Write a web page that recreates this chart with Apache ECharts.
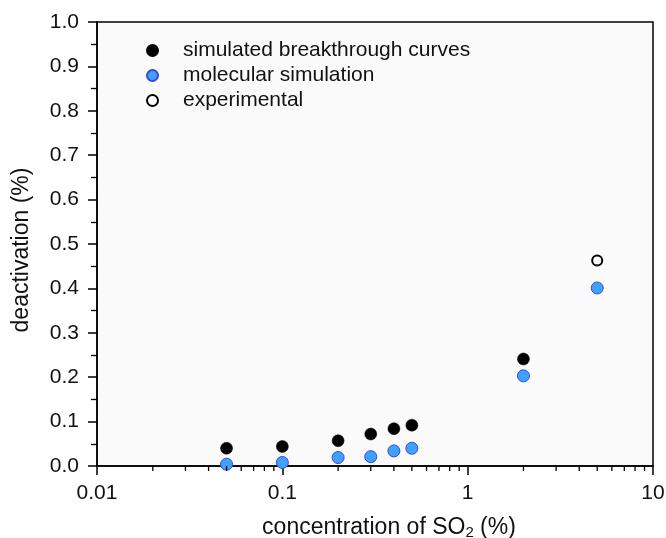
<!DOCTYPE html>
<html>
<head>
<meta charset="utf-8">
<script src="https://cdn.jsdelivr.net/npm/echarts@6/dist/echarts.min.js"></script>
<style>
  html, body { margin: 0; padding: 0; background: #fff; }
  #chart { width: 666px; height: 538px; }
</style>
</head>
<body>
<div id="chart"></div>
<script>
// SO2 concentration (%) and deactivation fraction for each data set
const breakthroughX = [0.05, 0.1, 0.2, 0.3, 0.4, 0.5, 2];
const breakthroughY = [0.040, 0.044, 0.057, 0.072, 0.084, 0.092, 0.241];

const molecularX = [0.05, 0.1, 0.2, 0.3, 0.4, 0.5, 2, 5];
const molecularY = [0.004, 0.008, 0.019, 0.021, 0.034, 0.040, 0.203, 0.401];

const experimentalX = [5];
const experimentalY = [0.463];

// minor ticks of the log axis (2..9 within every decade)
const minorTickValues = [
  0.02, 0.03, 0.04, 0.05, 0.06, 0.07, 0.08, 0.09,
  0.2, 0.3, 0.4, 0.5, 0.6, 0.7, 0.8, 0.9,
  2, 3, 4, 5, 6, 7, 8, 9
];

const FONT = 'Liberation Sans, Arial, sans-serif';
const pairs = (xs, ys) => xs.map((x, i) => [x, ys[i]]);

const chart = echarts.init(document.getElementById('chart'));
chart.setOption({
  backgroundColor: '#ffffff',
  animation: false,
  textStyle: { fontFamily: FONT },
  grid: {
    left: 97, right: 13, top: 22, bottom: 72,
    outerBoundsMode: 'none',
    containLabel: false,
    show: true, backgroundColor: '#fafafa', borderColor: '#000', borderWidth: 1.5
  },
  legend: {
    orient: 'vertical',
    left: 141, top: 35,
    itemWidth: 11, itemHeight: 11, itemGap: 4,
    icon: 'circle',
    textStyle: { fontFamily: FONT, fontSize: 21, color: '#111', padding: [0, 0, 0, 20] },
    data: ['simulated breakthrough curves', 'molecular simulation', 'experimental']
  },
  xAxis: {
    type: 'log', logBase: 10, min: 0.01, max: 10,
    name: 'concentration of SO{sub|2} (%)',
    nameLocation: 'middle', nameGap: 49,
    nameTextStyle: {
      fontFamily: FONT, fontSize: 23, color: '#111', padding: [0, 0, 0, 28],
      rich: { sub: { fontFamily: FONT, fontSize: 15, color: '#111', verticalAlign: 'bottom', padding: [10, 0, 0, 0] } }
    },
    axisLine: { lineStyle: { color: '#000', width: 1.5 } },
    axisTick: { show: true, inside: false, length: 9, lineStyle: { color: '#000', width: 1.5 } },
    axisLabel: {
      fontFamily: FONT, fontSize: 21, color: '#111', margin: 17,
      formatter: v => String(+v.toPrecision(3))
    },
    splitLine: { show: false }
  },
  yAxis: {
    type: 'value', min: 0, max: 1, interval: 0.1,
    name: 'deactivation (%)',
    nameLocation: 'middle', nameGap: 64, nameRotate: 90,
    nameTextStyle: { fontFamily: FONT, fontSize: 23, color: '#111', padding: [0, 12, 0, 0] },
    axisLine: { show: true, lineStyle: { color: '#000', width: 1.5 } },
    axisTick: { show: true, inside: false, length: 9, lineStyle: { color: '#000', width: 1.5 } },
    minorTick: { show: true, splitNumber: 2, length: 6, lineStyle: { color: '#000', width: 1.3 } },
    axisLabel: {
      fontFamily: FONT, fontSize: 21, color: '#111', margin: 18,
      formatter: v => v.toFixed(1)
    },
    splitLine: { show: false }
  },
  series: [
    {
      name: 'minor ticks',
      type: 'custom',
      silent: true,
      clip: false,
      data: minorTickValues.map(v => [v, 0]),
      renderItem: (params, api) => {
        const p = api.coord([api.value(0), 0]);
        return {
          type: 'line',
          shape: { x1: p[0], y1: p[1], x2: p[0], y2: p[1] + 5 },
          style: { stroke: '#000', lineWidth: 1.3 }
        };
      },
      z: 5
    },
    {
      name: 'simulated breakthrough curves',
      type: 'scatter',
      symbol: 'circle', symbolSize: 12,
      itemStyle: { color: '#000', borderColor: '#000', borderWidth: 0.5, opacity: 1 },
      data: pairs(breakthroughX, breakthroughY)
    },
    {
      name: 'molecular simulation',
      type: 'scatter',
      symbol: 'circle', symbolSize: 12,
      itemStyle: { color: '#3ea2fb', borderColor: '#3848d8', borderWidth: 1, opacity: 1 },
      data: pairs(molecularX, molecularY)
    },
    {
      name: 'experimental',
      type: 'scatter',
      symbol: 'circle', symbolSize: 10,
      itemStyle: { color: '#fff', borderColor: '#000', borderWidth: 2, opacity: 1 },
      data: pairs(experimentalX, experimentalY)
    }
  ]
});
</script>
</body>
</html>
